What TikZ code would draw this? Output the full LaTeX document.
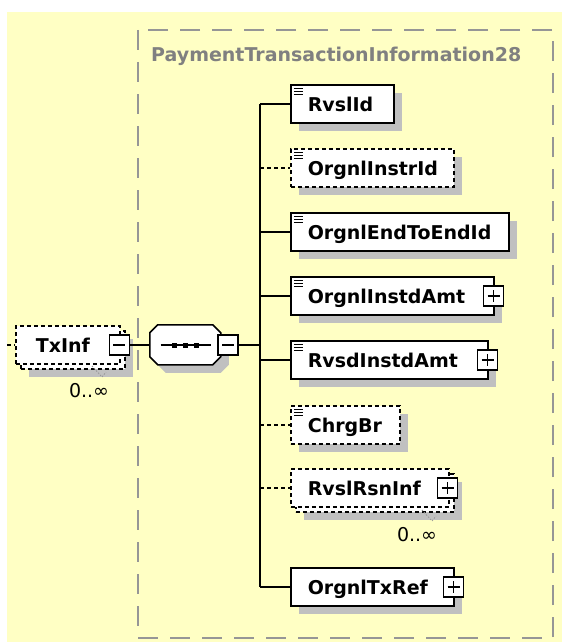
\documentclass[tikz,border=0pt]{standalone}
\usepackage{fontspec}
\setmainfont{DejaVu Sans}
\usepackage{tikz}
\usetikzlibrary{shadows}
\definecolor{bgyellow}{RGB}{255,255,196}
\definecolor{framegray}{RGB}{150,150,150}
\definecolor{titlegray}{RGB}{128,128,128}
\definecolor{shadowgray}{RGB}{192,192,192}

\begin{document}
\begin{tikzpicture}[x=1pt,y=-1pt,
  elem/.style={draw, fill=white, line width=1.6pt, anchor=west, minimum height=38,
    inner xsep=17, inner ysep=0, text width=#1pt, text height=14pt, text depth=0pt,
    align=left, font=\fontsize{19}{22}\selectfont\bfseries},
  opt/.style={dash pattern=on 4pt off 3pt},
  elshadow/.style={drop shadow={shadow xshift=8pt, shadow yshift=-8pt, fill=shadowgray, opacity=1}},
  multi/.style={opt, drop shadow={shadow xshift=13pt, shadow yshift=-13pt, fill=shadowgray, opacity=1},
    copy shadow={shadow xshift=5pt, shadow yshift=-5pt, draw=black, fill=white, opt, line width=1.6pt}},
  icon/.style={path picture={\foreach \k in {0,1,2}
    \draw[solid, line width=1.2pt] ([shift={(3pt,{-3.5pt-2.8pt*\k})}]path picture bounding box.north west) -- ++(9pt,0pt);}},
  plusbox/.style={draw, fill=white, solid, line width=1.2pt, minimum size=20, inner sep=0,
    path picture={\draw[line width=1.2pt] ([xshift=4pt]path picture bounding box.west) -- ([xshift=-4pt]path picture bounding box.east);
      \draw[line width=1.2pt] ([yshift=-4pt]path picture bounding box.north) -- ([yshift=4pt]path picture bounding box.south);}},
  minusbox/.style={draw, fill=white, solid, line width=1.2pt, minimum size=20, inner sep=0,
    path picture={\draw[line width=1.2pt] ([xshift=4pt]path picture bounding box.west) -- ([xshift=-4pt]path picture bounding box.east);}},
  seqbox/.style={minimum width=71, minimum height=40, inner sep=0},
  link/.style={line width=1.4pt},
  optlink/.style={link, opt},
  frame/.style={framegray, line width=2pt, dash pattern=on 20pt off 12pt},
  title/.style={text=titlegray, inner sep=0, font=\fontsize{19}{22}\selectfont\bfseries},
  mult/.style={inner sep=0, font=\fontsize{19}{22}\selectfont},
  notch/.style={framegray, line width=0.8pt, dash pattern=on 1.5pt off 1.5pt}]
\useasboundingbox (0,0) rectangle (562,642);
\fill[bgyellow] (7,12) rectangle (562,642);
\draw[frame] (138,30) rectangle (553,638);
\node[title, anchor=base west] (title) at (151,62) {PaymentTransactionInformation28};

% parent element and sequence
\node[elem=64, multi, inner xsep=20] (txinf) at (15,345) {TxInf};
\node[minusbox] (txminus) at ([xshift=-1.5]txinf.east) {};
\node[mult] (txmult) at (89,391) {0..∞};
\draw[notch] (92,366) -- (102,377) -- (106,372);
\node[seqbox] (seq) at (185.5,345) {};
\fill[shadowgray] ([shift={(8,8)}]seq.north west) ++(8,0) -- ++(55,0) -- ++(8,8) -- ++(0,24)
  -- ++(-8,8) -- ++(-55,0) -- ++(-8,-8) -- ++(0,-24) -- cycle;
\draw[fill=white, line width=1.6pt] (seq.north west) ++(8,0) -- ++(55,0) -- ++(8,8) -- ++(0,24)
  -- ++(-8,8) -- ++(-55,0) -- ++(-8,-8) -- ++(0,-24) -- cycle;
\draw[line width=1.4pt] ([xshift=-25]seq.center) -- ([xshift=25]seq.center);
\foreach \d in {-11,0,11}
  \fill ([xshift=\d]seq.center) +(-2.5pt,-2.5pt) rectangle +(2.5pt,2.5pt);
\node[minusbox] (seqminus) at (228,345) {};
\coordinate (entry) at (7,345);
\coordinate (spine) at (260,345);

% children
\node[elem=69, elshadow, icon] (rvslid) at (290,104) {RvslId};
\node[elem=129, elshadow, icon, opt] (orgnlinstrid) at (290,168) {OrgnlInstrId};
\node[elem=184, elshadow, icon] (orgnlendtoendid) at (290,232) {OrgnlEndToEndId};
\node[elem=169, elshadow, icon] (orgnlinstdamt) at (290,296) {OrgnlInstdAmt};
\node[plusbox] (instdplus) at ([xshift=-1]orgnlinstdamt.east) {};
\node[elem=163, elshadow, icon] (rvsdinstdamt) at (290,360) {RvsdInstdAmt};
\node[plusbox] (rvsdplus) at ([xshift=-1]rvsdinstdamt.east) {};
\node[elem=75, elshadow, icon, opt] (chrgbr) at (290,425) {ChrgBr};
\node[elem=124, multi] (rvslrsninf) at (290,488) {RvslRsnInf};
\node[plusbox] (rsnplus) at ([xshift=-2]rvslrsninf.east) {};
\node[mult] (rsnmult) at (417,535) {0..∞};
\draw[notch] (422,510) -- (432,521) -- (436,516);
\node[elem=129, elshadow] (orgnltxref) at (290,587) {OrgnlTxRef};
\node[plusbox] (txrefplus) at ([xshift=-1]orgnltxref.east) {};

% connectors
\draw[optlink] (entry) -- (txinf.west);
\draw[link] (txminus.east) -- (seq.west);
\draw[link] (seqminus.east) -- (spine);
\draw[link] (spine |- rvslid.west) -- (spine |- orgnltxref.west);
\foreach \n in {rvslid,orgnlendtoendid,orgnlinstdamt,rvsdinstdamt,orgnltxref}
  \draw[link] (spine |- \n.west) -- (\n.west);
\foreach \n in {orgnlinstrid,chrgbr,rvslrsninf}
  \draw[optlink] (spine |- \n.west) -- (\n.west);
\end{tikzpicture}
\end{document}
